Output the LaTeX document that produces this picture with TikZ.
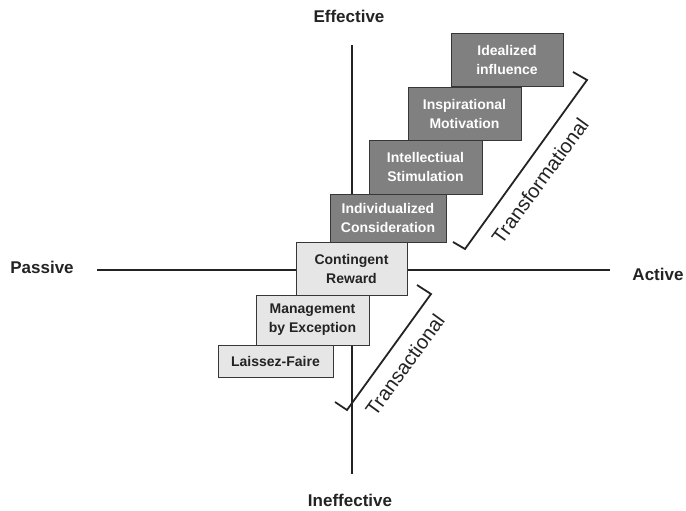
\documentclass[tikz,border=0pt]{standalone}
\usepackage{fontspec}
\setmainfont{Liberation Sans}
\definecolor{darkfill}{RGB}{128,128,128}
\definecolor{lightfill}{RGB}{230,230,230}
\definecolor{edge}{RGB}{55,55,55}
\definecolor{ink}{RGB}{35,35,35}
\begin{document}
\begin{tikzpicture}[x=1pt,y=-1pt,
  axis/.style={line width=1.8pt,draw=ink},
  bracket/.style={line width=1.8pt,draw=ink,line join=miter},
  stepbase/.style={draw=edge,line width=0.9pt,inner sep=0pt,align=center,
    font=\fontsize{14}{19}\selectfont\bfseries},
  darkstep/.style={stepbase,fill=darkfill,text=white},
  lightstep/.style={stepbase,fill=lightfill,text=ink},
  axislabel/.style={anchor=base,font=\fontsize{17}{20}\selectfont\bfseries,text=ink},
  grouplabel/.style={font=\fontsize{20}{24}\selectfont,text=ink,rotate=54}]
\useasboundingbox (0,0) rectangle (686,511);

% quadrant axes
\coordinate (top) at (352,45);
\coordinate (bottom) at (352,474);
\coordinate (left) at (97,270);
\coordinate (right) at (610,270);
\draw[axis] (top) -- (bottom);
\draw[axis] (left) -- (right);

% axis labels
\node[axislabel] (eff) at (349,22.7) {Effective};
\node[axislabel] (ineff) at (350,506.7) {Ineffective};
\node[axislabel] (pass) at (42,273.3) {Passive};
\node[axislabel] (act) at (658,280) {Active};

% transformational steps
\node[darkstep,minimum width=112,minimum height=53] (ii) at (507,59.5) {Idealized\\influence};
\node[darkstep,minimum width=113,minimum height=53] (im) at (464.5,113.5) {Inspirational\\Motivation};
\node[darkstep,minimum width=113,minimum height=54] (is) at (425.5,167) {Intellectiual\\Stimulation};
\node[darkstep,minimum width=116,minimum height=48] (ic) at (388,218) {Individualized\\Consideration};

% transactional steps
\node[lightstep,minimum width=111,minimum height=53] (cr) at (351.5,268.5) {Contingent\\Reward};
\node[lightstep,minimum width=113,minimum height=50] (me) at (312.5,320) {Management\\by Exception};
\node[lightstep,minimum width=115,minimum height=32] (lf) at (275.5,361) {Laissez-Faire};

% group brackets
\coordinate (tf1) at (573,72);
\coordinate (tf2) at (587,80);
\coordinate (tf3) at (465,249);
\coordinate (tf4) at (453,242);
\draw[bracket] (tf1) -- (tf2) -- (tf3) -- (tf4);
\node[grouplabel] (tflabel) at (540,181) {Transformational};

\coordinate (ta1) at (417,285);
\coordinate (ta2) at (431,294);
\coordinate (ta3) at (347,410);
\coordinate (ta4) at (335,402);
\draw[bracket] (ta1) -- (ta2) -- (ta3) -- (ta4);
\node[grouplabel] (talabel) at (405,365) {Transactional};
\end{tikzpicture}
\end{document}
